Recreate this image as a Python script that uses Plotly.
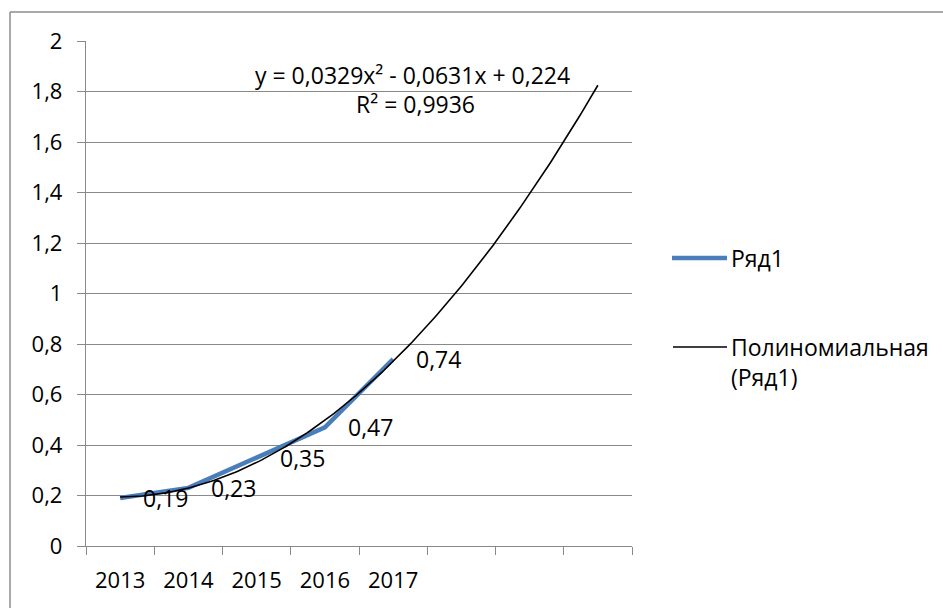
import numpy as np
import plotly.graph_objects as go

# Series data
years = ["2013", "2014", "2015", "2016", "2017"]
values = [0.19, 0.23, 0.35, 0.47, 0.74]
positions = [1, 2, 3, 4, 5]

# Polynomial trendline (order 2), forecast 3 periods ahead
coef_a, coef_b, coef_c = 0.0329, -0.0631, 0.224
r_squared = 0.9936
trend_start, trend_end = 1, 8

y_ticks = [0, 0.2, 0.4, 0.6, 0.8, 1.0, 1.2, 1.4, 1.6, 1.8, 2.0]

FONT = "Open Sans, Noto Sans, sans-serif"
FS = 23
GRID = "#898989"
BLUE = "#4A7EBB"


def fmt(v, nd=2):
    return f"{v:.{nd}f}".replace(".", ",")


def tick_text(t):
    return str(int(t)) if float(t).is_integer() else f"{t:.1f}".replace(".", ",")


tx = np.linspace(trend_start, trend_end, 200)
ty = coef_a * tx ** 2 + coef_b * tx + coef_c

fig = go.Figure()
fig.add_trace(go.Scatter(
    x=positions, y=values, mode="lines",
    line=dict(color=BLUE, width=4.5), name="Ряд1",
))
fig.add_trace(go.Scatter(
    x=tx, y=ty, mode="lines",
    line=dict(color="black", width=1.6), name="Полиномиальная (Ряд1)",
))

annotations = []
# Data labels to the right of each point
for x, v in zip(positions, values):
    annotations.append(dict(
        x=x, y=v, xref="x", yref="y", text=fmt(v), showarrow=False,
        xanchor="left", yanchor="middle", xshift=21,
        font=dict(family=FONT, size=FS, color="black"),
    ))

# Plot-area pixel helpers for the legend, equation box and frame
PW, PH, L, T = 546.0, 505.0, 86.0, 41.0


def px(x):
    return (x - L) / PW


def py(y):
    return (T + PH - y) / PH


eq_line1 = f"y = {fmt(coef_a, 4)}x² - {fmt(-coef_b, 4)}x + {fmt(coef_c, 3)}"
eq_line2 = f"R² = {fmt(r_squared, 4)}"
annotations.append(dict(
    x=px(412), y=py(75), xref="paper", yref="paper", text=eq_line1,
    showarrow=False, xanchor="center", yanchor="middle",
    font=dict(family=FONT, size=FS, color="black"),
))
annotations.append(dict(
    x=px(415), y=py(104), xref="paper", yref="paper", text=eq_line2,
    showarrow=False, xanchor="center", yanchor="middle",
    font=dict(family=FONT, size=FS, color="black"),
))

shapes = [
    dict(type="line", xref="paper", yref="paper",
         x0=px(672), x1=px(727), y0=py(258), y1=py(258),
         line=dict(color=BLUE, width=4.5)),
    dict(type="line", xref="paper", yref="paper",
         x0=px(673), x1=px(727), y0=py(347), y1=py(347),
         line=dict(color="black", width=1.6)),
    # chart frame
    dict(type="line", xref="paper", yref="paper",
         x0=px(10), x1=px(943), y0=py(12), y1=py(12),
         line=dict(color="#8c8c8c", width=1.5)),
    dict(type="line", xref="paper", yref="paper",
         x0=px(10), x1=px(10), y0=py(12), y1=py(610),
         line=dict(color="#8c8c8c", width=1.5)),
]
annotations.append(dict(
    x=px(729), y=py(258), xref="paper", yref="paper", text="Ряд1",
    showarrow=False, xanchor="left", yanchor="middle",
    font=dict(family=FONT, size=FS, color="black"),
))
annotations.append(dict(
    x=px(729), y=py(362), xref="paper", yref="paper",
    text="Полиномиальная<br>(Ряд1)", align="left",
    showarrow=False, xanchor="left", yanchor="middle",
    font=dict(family=FONT, size=FS, color="black"),
))

fig.update_layout(
    width=943, height=608,
    margin=dict(l=86, r=311, t=41, b=62),
    paper_bgcolor="white", plot_bgcolor="white",
    separators=", ",
    showlegend=False,
    font=dict(family=FONT, size=FS, color="black"),
    annotations=annotations,
    shapes=shapes,
)
fig.update_xaxes(
    range=[0.5, 8.5], tickmode="array", tickvals=positions, ticktext=years,
    ticks="", showgrid=False, zeroline=False,
    showline=True, linecolor=GRID, linewidth=1.3,
    minor=dict(tickmode="array", tickvals=[i + 0.5 for i in range(0, 9)],
               ticks="outside", ticklen=8, tickcolor=GRID, tickwidth=1.3,
               showgrid=False),
    ticklabelstandoff=14,
    tickfont=dict(family=FONT, size=22, color="black"),
)
fig.update_yaxes(
    range=[0, 2], tickmode="array", tickvals=y_ticks,
    ticktext=[tick_text(t) for t in y_ticks],
    ticks="outside", ticklen=8, tickcolor=GRID, tickwidth=1.3,
    showgrid=True, gridcolor=GRID, gridwidth=1.3, zeroline=False,
    showline=True, linecolor=GRID, linewidth=1.3,
    ticklabelstandoff=10,
    tickfont=dict(family=FONT, size=22, color="black"),
)

fig.write_html("out.html")
